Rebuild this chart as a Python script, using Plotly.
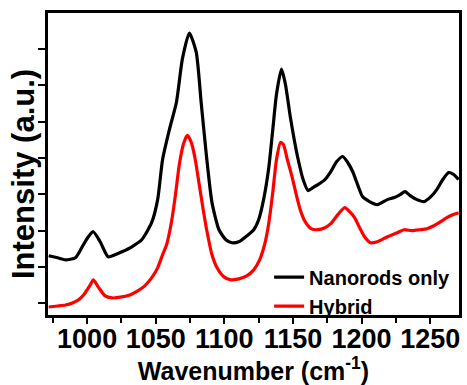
import plotly.graph_objects as go

# Wavenumber (cm^-1) and intensity (a.u.)
nano_x = [972.0, 978.5, 984.3, 991.5, 997.3, 1000.9, 1004.5, 1009.5, 1015.3, 1020.3, 1025.4, 1032.6,
          1039.8, 1047.0, 1051.4, 1055.0, 1060.0, 1065.1, 1069.4, 1074.5, 1079.5, 1083.1, 1086.7,
          1091.0, 1096.1, 1101.1, 1105.5, 1110.5, 1115.6, 1121.4, 1125.0, 1128.6, 1132.2, 1135.1,
          1138.0, 1141.6, 1144.5, 1148.0, 1150.9, 1153.8, 1157.4, 1161.0, 1164.6, 1168.2, 1173.3,
          1177.6, 1181.9, 1186.3, 1189.9, 1193.5, 1197.1, 1200.7, 1205.8, 1211.5, 1218.8, 1223.8,
          1228.1, 1231.7, 1235.4, 1240.4, 1245.5, 1250.5, 1254.8, 1259.2, 1263.5, 1267.1, 1270.7]
nano_y = [59, 57, 55, 57, 70, 78, 83, 73, 58, 60, 63, 68,
          75, 92, 115, 155, 185, 212, 255, 281, 262, 212, 162,
          112, 85, 75, 72, 73, 78, 85, 95, 115, 145, 182,
          220, 245, 230, 198, 175, 155, 135, 124, 127, 130, 135,
          143, 153, 158, 152, 143, 130, 118, 113, 110, 115, 117,
          120, 123, 119, 115, 113, 118, 125, 135, 142, 140, 135]

hyb_x = [972.0, 978.5, 984.3, 989.3, 993.6, 998.0, 1002.3, 1004.5, 1008.1, 1013.1, 1018.2, 1025.4,
         1031.2, 1036.9, 1042.0, 1047.0, 1051.4, 1055.0, 1057.9, 1061.5, 1064.4, 1067.2, 1070.1,
         1073.0, 1075.9, 1078.8, 1081.7, 1084.6, 1087.4, 1091.0, 1094.7, 1099.7, 1104.8, 1110.5,
         1116.3, 1121.4, 1125.7, 1129.3, 1132.2, 1135.1, 1138.0, 1140.9, 1143.0, 1145.9, 1149.5,
         1152.4, 1155.3, 1158.9, 1163.2, 1168.2, 1173.3, 1177.6, 1182.7, 1187.7, 1191.3, 1194.9,
         1198.6, 1202.2, 1206.5, 1211.5, 1218.8, 1226.0, 1231.0, 1236.8, 1242.6, 1247.6, 1252.7,
         1257.7, 1262.1, 1266.4, 1270.7]
hyb_y = [8, 9, 10, 12, 15, 21, 30, 35, 28, 19, 17, 18,
         20, 24, 29, 37, 47, 60, 70, 93, 120, 150, 170,
         179, 172, 155, 130, 105, 83, 60, 47, 38, 35, 36,
         39, 45, 55, 70, 90, 120, 155, 172, 170, 155, 137,
         120, 105, 93, 86, 85, 87, 91, 100, 107, 103, 97,
         87, 78, 72, 73, 78, 82, 85, 84, 85, 86, 89,
         93, 97, 100, 102]

x_ticks = [1000, 1050, 1100, 1150, 1200, 1250]
x_ticktext = ["1000", "1050", "1100", "1150", "1200", "1250"]

FONT = "Liberation Sans, Arial, sans-serif"

fig = go.Figure()
fig.add_trace(go.Scatter(x=nano_x, y=nano_y, mode="lines", name="<b>Nanorods only</b>",
                         line=dict(color="#000000", width=3.2, shape="spline", smoothing=0.6)))
fig.add_trace(go.Scatter(x=hyb_x, y=hyb_y, mode="lines", name="<b>Hybrid</b>",
                         line=dict(color="#ff0000", width=3.2, shape="spline", smoothing=0.6)))

fig.add_annotation(text="<b>Intensity (a.u.)</b>", textangle=-90,
                   xref="paper", yref="paper", x=0, y=0.5, xanchor="center", yanchor="middle",
                   xshift=-25, yshift=-10, showarrow=False,
                   font=dict(size=31, family=FONT, color="black"))

fig.update_layout(
    width=467, height=385,
    margin=dict(l=48, r=5, t=13, b=70),
    paper_bgcolor="white", plot_bgcolor="white",
    font=dict(family=FONT, color="black", size=20),
    showlegend=True,
    legend=dict(x=0.538, y=0.19, xanchor="left", yanchor="top",
                bgcolor="rgba(0,0,0,0)", font=dict(size=20, family=FONT, color="black"),
                itemwidth=30, tracegroupgap=0),
    xaxis=dict(
        range=[971.5, 1271], showgrid=False, zeroline=False,
        showline=True, linecolor="black", linewidth=2.5, mirror=True,
        tickmode="array", tickvals=x_ticks, ticktext=["<b>%s</b>" % t for t in x_ticktext],
        ticks="outside", ticklen=6, tickwidth=2, tickcolor="black",
        ticklabelstandoff=-8,
        minor=dict(ticks="outside", ticklen=5, tickwidth=2, tickcolor="black", dtick=25, tick0=975),
        tickfont=dict(size=27, family=FONT, color="black"),
        title=dict(text="<b>Wavenumber (cm<sup>-1</sup>)</b>", standoff=3,
                   font=dict(size=25, family=FONT, color="black")),
    ),
    yaxis=dict(
        range=[0, 301], showgrid=False, zeroline=False,
        showline=True, linecolor="black", linewidth=2.5, mirror=True,
        tick0=11.7, dtick=36.2, tickmode="linear",
        ticks="outside", ticklen=7, tickwidth=2, tickcolor="black",
        showticklabels=False,
    ),
)

fig.write_html("out.html")
